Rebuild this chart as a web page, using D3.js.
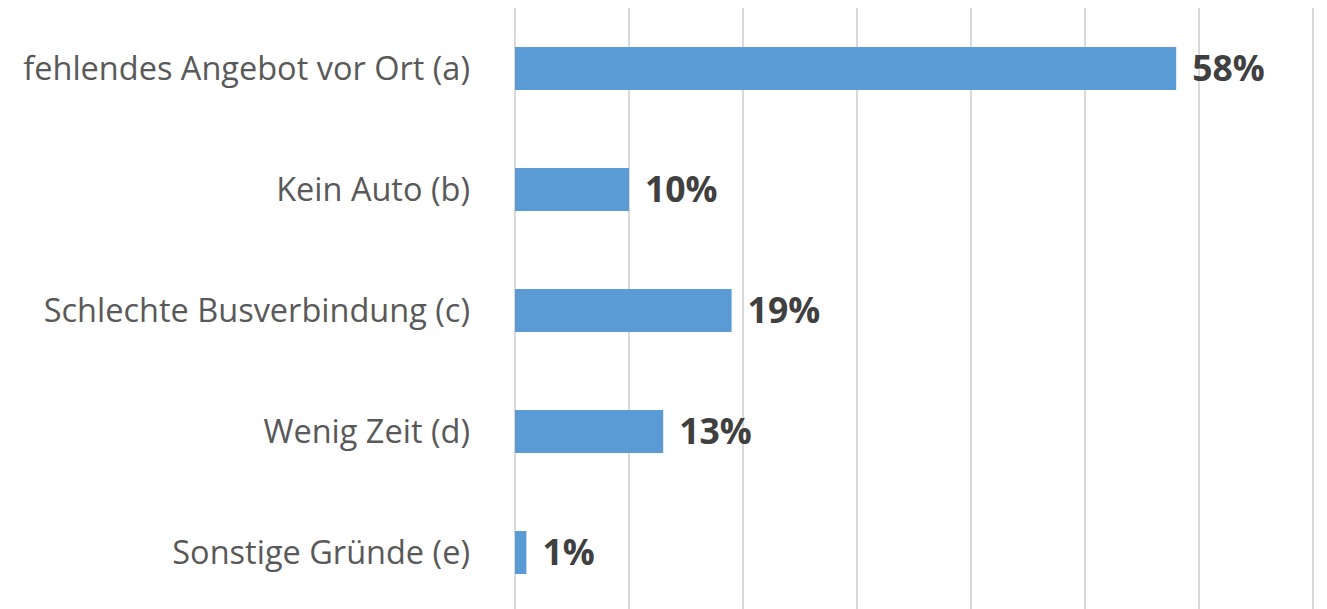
<!DOCTYPE html>
<html><head><meta charset="utf-8">
<script src="https://cdn.jsdelivr.net/npm/d3@7"></script>
<style>body{margin:0;background:#fff}svg{display:block}</style>
</head><body>
<script>
const categories = ["fehlendes Angebot vor Ort (a)", "Kein Auto (b)", "Schlechte Busverbindung (c)", "Wenig Zeit (d)", "Sonstige Gründe (e)"];
const values = [58, 10, 19, 13, 1];
const gridTicks = [0, 10, 20, 30, 40, 50, 60, 70];

const W = 1327, H = 609;
const svg = d3.select("body").append("svg").attr("width", W).attr("height", H);
const x = d3.scaleLinear().domain([0, 70]).range([515, 1313]);
const y = d3.scaleBand().domain(categories).range([8, 613]).paddingInner(0.645).paddingOuter(0.3225);

svg.append("g").selectAll("line").data(gridTicks).join("line")
  .attr("x1", d => x(d)).attr("x2", d => x(d))
  .attr("y1", 8).attr("y2", H)
  .attr("stroke", "#d9d9d9").attr("stroke-width", 2);

svg.append("g").selectAll("rect").data(values).join("rect")
  .attr("x", x(0)).attr("y", (d, i) => y(categories[i]))
  .attr("width", d => x(d) - x(0)).attr("height", y.bandwidth())
  .attr("fill", "#5b9bd5");

const yAxis = d3.axisLeft(y).tickSize(0).tickPadding(0);
const ga = svg.append("g").attr("transform", "translate(470,0)").call(yAxis);
ga.select(".domain").remove();
ga.selectAll("text").attr("font-family", "'Open Sans', sans-serif").attr("font-size", 32.5)
  .attr("fill", "#595959").attr("dy", "0.35em");

svg.append("g").selectAll("text").data(values).join("text")
  .attr("x", d => x(d) + 16).attr("y", (d, i) => y(categories[i]) + y.bandwidth() / 2)
  .attr("dy", "0.36em")
  .attr("font-family", "'Open Sans', sans-serif").attr("font-weight", "bold").attr("font-size", 35.5)
  .attr("fill", "#404040")
  .text(d => d + "%");
</script>
</body></html>
